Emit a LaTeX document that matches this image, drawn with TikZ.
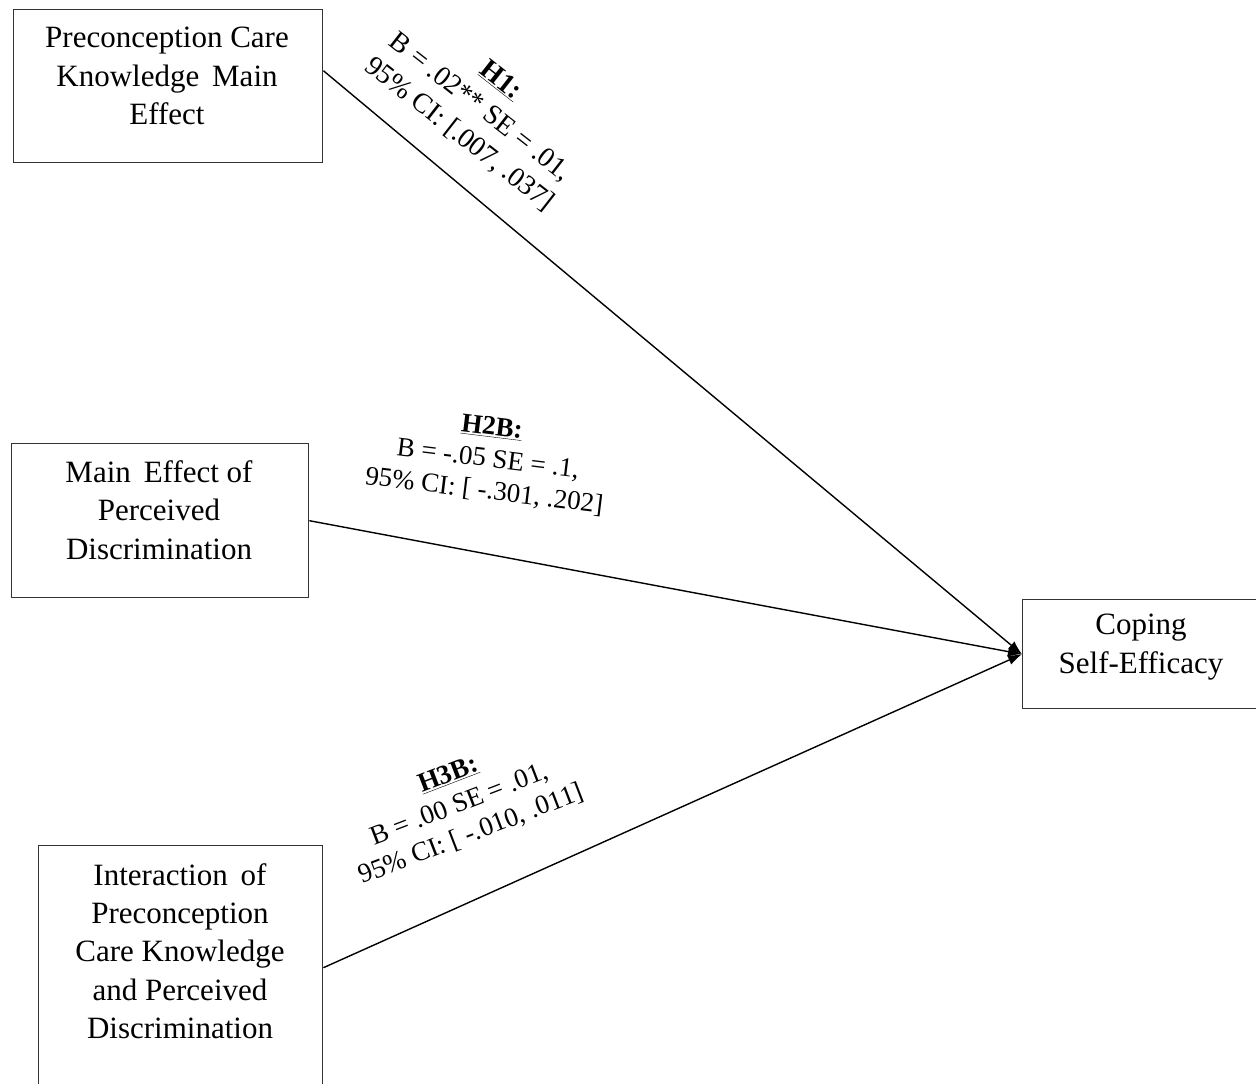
\documentclass[tikz,border=0pt]{standalone}
\usepackage{fontspec}
\setmainfont{Liberation Serif}
\usetikzlibrary{arrows.meta}
\begin{document}
\begin{tikzpicture}[x=1pt,y=-1pt,
  box/.style={draw=black!80, line width=1.4pt, inner sep=0pt, anchor=north west},
  boxtext/.style={align=center, font=\fontsize{31}{38.3}\selectfont, inner sep=0pt},
  lbl/.style={align=center, font=\fontsize{27}{32}\selectfont, inner sep=0pt},
  conn/.style={line width=1.4pt, -{Latex[length=14pt,width=10pt]}}]
\useasboundingbox (0,0) rectangle (1256,1084);
\clip (0,0) rectangle (1256,1084);
\fill[white] (0,0) rectangle (1256,1084);
% boxes
\node[box, minimum width=309pt, minimum height=153pt] (b1) at (13,9) {};
\node[boxtext] (t1) at (167,76) {Preconception Care\\Knowledge \,Main\\Effect};
\node[box, minimum width=297pt, minimum height=154pt] (b2) at (11,443) {};
\node[boxtext] (t2) at (159,510) {Main \,Effect of\\Perceived\\Discrimination};
\node[box, minimum width=284pt, minimum height=244pt] (b3) at (38,845) {};
\node[boxtext] (t3) at (180,951) {Interaction \,of\\Preconception\\Care Knowledge\\and Perceived\\Discrimination};
\node[box, minimum width=250pt, minimum height=109pt] (b4) at (1022,599) {};
\node[boxtext] (t4) at (1141,647) {Coping\\Self-Efficacy};
% connectors
\draw[conn] ([yshift=15.5pt]b1.east) -- (b4.west);
\draw[conn] (b2.east) -- (b4.west);
\draw[conn] (b3.east) -- (b4.west);
% labels
\node[lbl, rotate=-38, font=\fontsize{28}{34}\selectfont] (l1) at (480,108) {\underline{\textbf{H1:}}\\B = .02** SE = .01,\\95\% CI: [.007, .037]};
\node[lbl, rotate=-7] (l2) at (488,460) {\underline{\textbf{H2B:}}\\B = -.05 SE = .1,\\95\% CI: [ -.301, .202]};
\node[lbl, rotate=21] (l3) at (460,805) {\underline{\textbf{H3B:}}\\B = .00 SE = .01,\\95\% CI: [ -.010, .011]};
\end{tikzpicture}
\end{document}
